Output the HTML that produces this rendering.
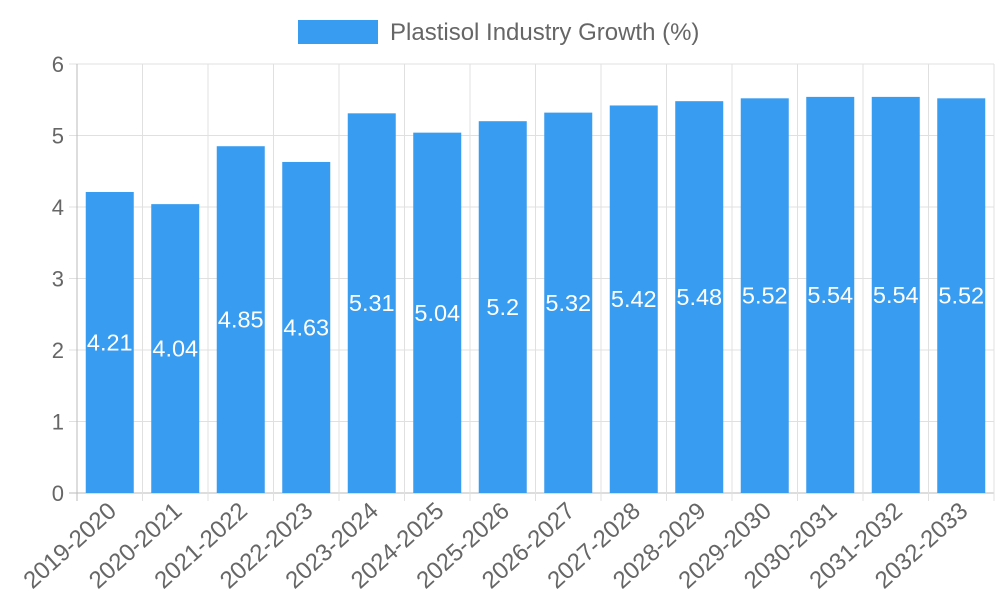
<!DOCTYPE html>
<html><head><meta charset="utf-8"><style>
body{margin:0;background:#fff;font-family:"Liberation Sans",sans-serif}
</style></head><body>
<svg id="chart" width="1000" height="600" xmlns="http://www.w3.org/2000/svg">
<g>
<rect x="298" y="20" width="80" height="24" fill="#389cf0"/>
<text x="390" y="40" font-size="24" fill="#666">Plastisol Industry Growth (%)</text>
</g>
<g id="grid"></g><g id="bars"></g><g id="labels"></g>
</svg>
<script>
const categories=["2019-2020","2020-2021","2021-2022","2022-2023","2023-2024","2024-2025","2025-2026","2026-2027","2027-2028","2028-2029","2029-2030","2030-2031","2031-2032","2032-2033"];
const values=[4.21,4.04,4.85,4.63,5.31,5.04,5.2,5.32,5.42,5.48,5.52,5.54,5.54,5.52];
const yTicks=[0,1,2,3,4,5,6];
const NS="http://www.w3.org/2000/svg";
const X0=77,X1=994,Y0=493,Y1=64,yMax=6;
const step=(X1-X0)/categories.length;
const y=v=>Y0-(v/yMax)*(Y0-Y1);
const xc=i=>X0+step*(i+0.5);
function mk(tag,attrs,parent,text){const e=document.createElementNS(NS,tag);for(const k in attrs)e.setAttribute(k,attrs[k]);if(text!==undefined)e.textContent=text;parent.appendChild(e);return e;}
const grid=document.getElementById('grid'),bars=document.getElementById('bars'),labels=document.getElementById('labels');
yTicks.forEach(t=>{
 const l=mk('line',{x1:X0-8,x2:X1,y1:y(t),y2:y(t),stroke:t===0?'#bbb':'#e0e0e0','stroke-width':1},grid);
 
 
 const tx=mk('text',{x:X0-13,y:y(t)+8,'text-anchor':'end','font-size':22,fill:'#666'},grid,String(t));
 
 
});
for(let i=0;i<=categories.length;i++){
 const x=X0+step*i;
 const l=mk('line',{x1:x,x2:x,y1:Y1,y2:Y0+8,stroke:i===0?'#bbb':'#e0e0e0','stroke-width':1},grid);
 
 
}
categories.forEach((c,i)=>{
 const w=48,v=values[i];
 const r=mk('rect',{x:xc(i)-w/2,y:y(v),width:w,height:Y0-y(v),fill:'#389cf0'},bars);
 
 
 const vl=mk('text',{x:xc(i),y:(y(v)+Y0)/2+8,'text-anchor':'middle','font-size':23.5,fill:'#fff'},labels,String(v));
 
 
 const cx=xc(i)+8,cy=Y0+20;
 const xl=mk('text',{x:cx,y:cy,'text-anchor':'end','font-size':24,fill:'#666',transform:`rotate(-42 ${cx} ${cy})`},labels,c);
 
 
});
</script>
</body></html>
